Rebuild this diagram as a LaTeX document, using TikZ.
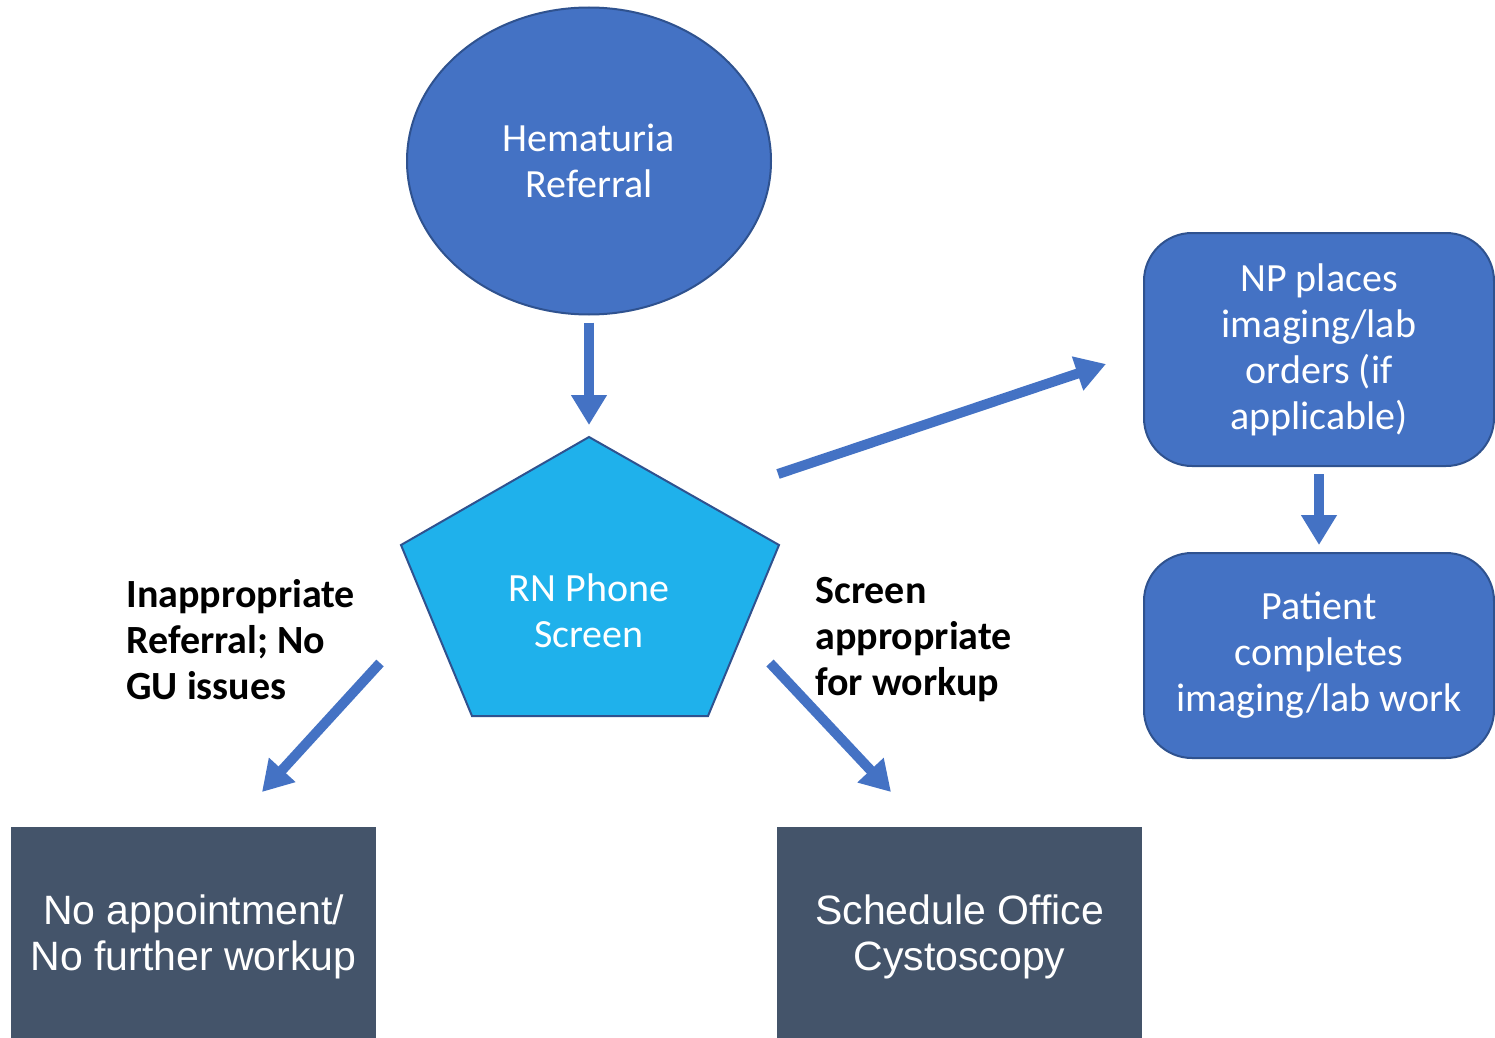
\documentclass[tikz,border=0pt]{standalone}
\usepackage{fontspec}
\setmainfont{Carlito}
\newfontfamily\arialfont{Liberation Sans}
\usepackage{xcolor}
\usepackage{tikz}
\usetikzlibrary{arrows.meta}
\usetikzlibrary{shapes.geometric}
\definecolor{boxblue}{HTML}{4472C4}
\definecolor{boxedge}{HTML}{2F528F}
\definecolor{screenblue}{HTML}{1FB1EB}
\definecolor{slate}{HTML}{44546A}
\begin{document}
\begin{tikzpicture}[x=0.5pt, y=-0.5pt, inner sep=0pt, font=\fontsize{20}{23}\selectfont,
    flow/.style={line width=5pt, boxblue, -{Triangle[width=17pt, length=15pt]}},
    bluebox/.style={draw=boxedge, line width=1pt, fill=boxblue, text=white, rounded corners=24pt, align=center, minimum width=175pt},
    slatebox/.style={fill=slate, text=white, font=\arialfont\fontsize{20.5}{23}\selectfont, align=center, minimum width=182.5pt, minimum height=110pt},
    note/.style={font=\bfseries\fontsize{20}{23}\selectfont, align=left, anchor=west}]
    \clip (0,0) rectangle (1495,1038);
    \fill[white] (0,0) rectangle (1495,1038);
    \node[ellipse, draw=boxedge, line width=1pt, fill=boxblue, text=white, align=center,
      minimum width=182pt, minimum height=153.5pt] (hem) at (589,161) {Hematuria\\Referral};
    \draw[draw=boxedge, line width=1pt, fill=screenblue] (589,437) coordinate (ptop)
      -- (779,545) -- (708,716) -- (472,716) -- (401,545) -- cycle;
    \node[text=white, align=center] (rn) at (589,611) {RN Phone\\Screen};
    \node[bluebox, minimum height=116.5pt] (np) at (1319,349.5) {NP places\\imaging/lab\\orders (if\\applicable)};
    \node[bluebox, minimum height=102.5pt] (pat) at (1319,655.5) {Patient\\completes\\imaging/lab work};
    \node[slatebox] (noapp) at (193.5,937) {No appointment/\\No further workup};
    \node[slatebox] (cysto) at (959.5,937) {Schedule Office\\Cystoscopy};
    \node[note] (lblno) at (126,640) {Inappropriate\\Referral; No\\GU issues};
    \node[note] (lblyes) at (815,640) {Screen\\appropriate\\for workup};
    \coordinate (rnne) at (778,474);
    \coordinate (npin) at (1106,364);
    \coordinate (rnsw) at (380,663);
    \coordinate (noin) at (262,792);
    \coordinate (rnse) at (770,663);
    \coordinate (cyin) at (891,792);
    \draw[flow, shorten <=3.5pt, shorten >=6pt] (hem.south) -- (ptop);
    \draw[flow] (rnne) -- (npin);
    \draw[flow] (rnsw) -- (noin);
    \draw[flow] (rnse) -- (cyin);
    \draw[flow, shorten <=3.5pt, shorten >=3.5pt] (np.south) -- (pat.north);
\end{tikzpicture}
\end{document}
